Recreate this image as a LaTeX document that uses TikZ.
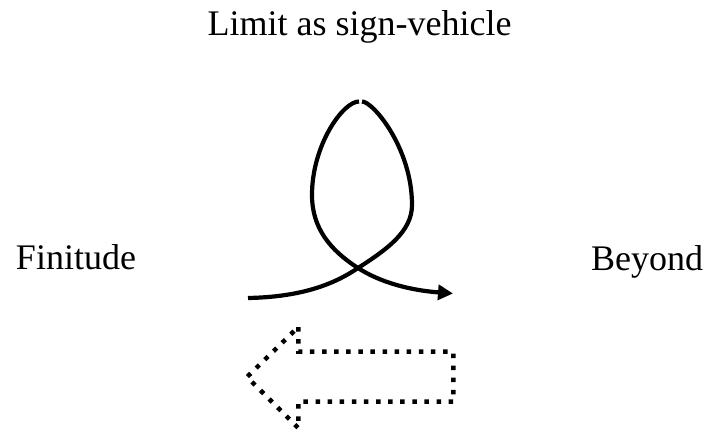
\documentclass[tikz,border=0pt]{standalone}
\usepackage{fontspec}
\setmainfont{Liberation Serif}
\usetikzlibrary{arrows.meta}
\begin{document}
\begin{tikzpicture}[x=1pt,y=-1pt,
  lbl/.style={anchor=base,inner sep=0pt,font=\fontsize{36}{40}\selectfont},
  loopline/.style={line width=4.2pt,line cap=butt},
  dotline/.style={line width=4.5pt,line cap=butt,dash pattern=on 4.5pt off 7.6pt}]
\useasboundingbox (0,0) rectangle (707,436);
\node[lbl] (top) at (359.5,36) {Limit as sign-vehicle};
\node[lbl] (fin) at (76,269) {Finitude};
\node[lbl] (bey) at (647,270) {Beyond};
% loop
\coordinate (start) at (248,298);
\coordinate (cross) at (358,268);
\coordinate (topR) at (362,101.5);
\coordinate (topL) at (359,101.5);
\coordinate (tip) at (453,293.5);
\draw[loopline] (start) .. controls (300,297) and (333,285) .. (cross)
  .. controls (386,250) and (412,232) .. (412,205)
  .. controls (412,148) and (373,101.5) .. (topR);
\draw[loopline,-{Triangle[length=15pt,width=15pt]}] (topL) .. controls (343,101.5) and (312,145) .. (312,195)
  .. controls (312,228) and (330,250) .. (cross)
  .. controls (386,286) and (420,291) .. (tip);
% dotted arrow
\coordinate (a1) at (298.3,327);
\coordinate (a2) at (298.3,351.7);
\coordinate (a3) at (453.3,351.7);
\coordinate (a4) at (453.3,401.7);
\coordinate (a5) at (298.3,401.7);
\coordinate (a6) at (298.3,428);
\coordinate (a7) at (247,377);
\draw[dotline] (a1) -- (a2) -- (a3) -- (a4) -- (a5) -- (a6) -- (a7) -- cycle;
\end{tikzpicture}
\end{document}
